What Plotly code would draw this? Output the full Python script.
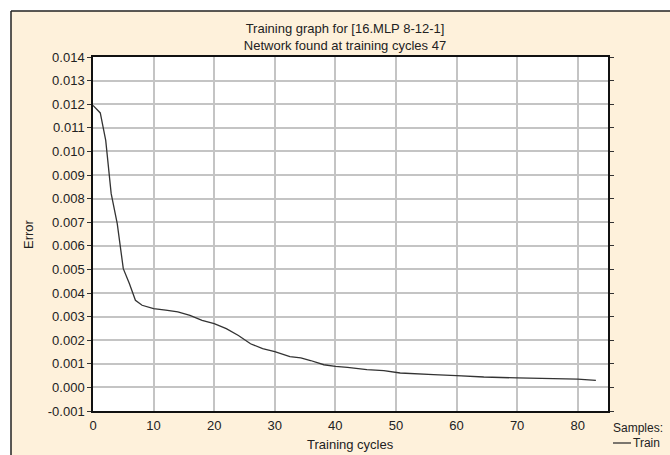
import plotly.graph_objects as go

# ---- data ----
cycles = [0, 1.2, 2.1, 2.6, 3.0, 4.0, 5.0, 6.0, 7.0, 8.1, 10, 12, 14, 16, 18, 20,
          22, 24, 26, 28, 30, 32.5, 34.3, 35.9, 38.1, 40, 42, 45.2, 48, 50.7,
          53, 56.2, 60, 64.5, 70, 75.4, 80, 83]
train_error = [0.01195, 0.01163, 0.01047, 0.0092, 0.00821, 0.00694, 0.00503, 0.0044,
               0.00369, 0.00348, 0.00334, 0.00327, 0.0032, 0.00305, 0.00284, 0.0027,
               0.00249, 0.0022, 0.00185, 0.00164, 0.00152, 0.0013, 0.00125, 0.00114,
               0.00096, 0.00089, 0.00085, 0.00075, 0.00071, 0.00061, 0.00057, 0.00054,
               0.0005, 0.00044, 0.0004, 0.00037, 0.00035, 0.0003]

x_ticks = [0, 10, 20, 30, 40, 50, 60, 70, 80]
y_ticks = [-0.001, 0.000, 0.001, 0.002, 0.003, 0.004, 0.005, 0.006, 0.007,
           0.008, 0.009, 0.010, 0.011, 0.012, 0.013, 0.014]
y_ticklabels = ["-0.001", "0.000", "0.001", "0.002", "0.003", "0.004", "0.005", "0.006",
                "0.007", "0.008", "0.009", "0.010", "0.011", "0.012", "0.013", "0.014"]

title_text = "Training graph for [16.MLP 8-12-1]<br>Network found at training cycles 47"
legend_title = "Samples:"
series_name = "Train"

# ---- layout geometry (pixels) ----
W, H = 670, 455
L, R, T, B = 93, 62, 57, 44
PW, PH = W - L - R, H - T - B

def px(x):
    return (x - L) / PW

def py(y):
    return (H - B - y) / PH

CREAM = "#FEF1DB"
FONT = "Liberation Sans, Arial, sans-serif"
TXT = "#222222"

fig = go.Figure()
fig.add_trace(go.Scatter(x=cycles, y=train_error, mode="lines", name=series_name,
                         line=dict(color="#333333", width=1.3), showlegend=False))

axis_common = dict(showline=True, linecolor="#111111", linewidth=1.5,
                   showgrid=True, gridcolor="#C4C4C4", gridwidth=1.5, automargin=False,
                   zeroline=False, tickfont=dict(family=FONT, size=13, color=TXT))

fig.update_xaxes(range=[0, 85], tickvals=x_ticks, mirror=True,
                 ticks="outside", ticklen=2, tickcolor="rgba(0,0,0,0)",
                 **axis_common)
fig.update_yaxes(range=[-0.001, 0.014], tickvals=y_ticks, ticktext=y_ticklabels,
                 mirror="ticks", ticks="outside", ticklen=4, tickcolor="#333333", tickwidth=1,
                 **axis_common)

shapes = [
    # white strips outside the outer frame
    dict(type="rect", xref="paper", yref="paper", x0=px(0), x1=px(W), y0=py(11), y1=py(-5),
         fillcolor="white", line=dict(width=0), layer="below"),
    dict(type="rect", xref="paper", yref="paper", x0=px(-5), x1=px(11), y0=py(H + 5), y1=py(-5),
         fillcolor="white", line=dict(width=0), layer="below"),
    # outer frame lines
    dict(type="line", xref="paper", yref="paper", x0=px(11), x1=px(W + 5), y0=py(11), y1=py(11),
         line=dict(color="#222222", width=1.5)),
    dict(type="line", xref="paper", yref="paper", x0=px(11), x1=px(11), y0=py(11), y1=py(H + 5),
         line=dict(color="#222222", width=1.5)),
    # legend sample line
    dict(type="line", xref="paper", yref="paper", x0=px(613), x1=px(631), y0=py(443), y1=py(443),
         line=dict(color="#333333", width=1.3)),
]

annotations = [
    # axis titles
    dict(text="Training cycles", xref="paper", yref="paper", x=0.5, y=py(444),
         xanchor="center", yanchor="middle", showarrow=False, borderpad=0,
         font=dict(family=FONT, size=13, color=TXT)),
    dict(text="Error", xref="paper", yref="paper", x=px(28), y=0.5, textangle=-90,
         xanchor="center", yanchor="middle", showarrow=False, borderpad=0,
         font=dict(family=FONT, size=13, color=TXT)),
    # legend
    dict(text=legend_title, xref="paper", yref="paper", x=px(612), y=py(428),
         xanchor="left", yanchor="middle", showarrow=False, borderpad=0,
         font=dict(family=FONT, size=12, color=TXT)),
    dict(text=series_name, xref="paper", yref="paper", x=px(632), y=py(443),
         xanchor="left", yanchor="middle", showarrow=False, borderpad=0,
         font=dict(family=FONT, size=12, color=TXT)),
]

fig.update_layout(
    width=W, height=H,
    margin=dict(l=L, r=R, t=T, b=B, pad=0),
    paper_bgcolor=CREAM, plot_bgcolor="white",
    title=dict(text=title_text, xref="paper", x=px(345), xanchor="center",
               yref="container", y=1 - 33 / H, yanchor="middle",
               font=dict(family=FONT, size=13, color=TXT)),
    shapes=shapes, annotations=annotations,
    showlegend=False,
)

fig.write_html("out.html")
